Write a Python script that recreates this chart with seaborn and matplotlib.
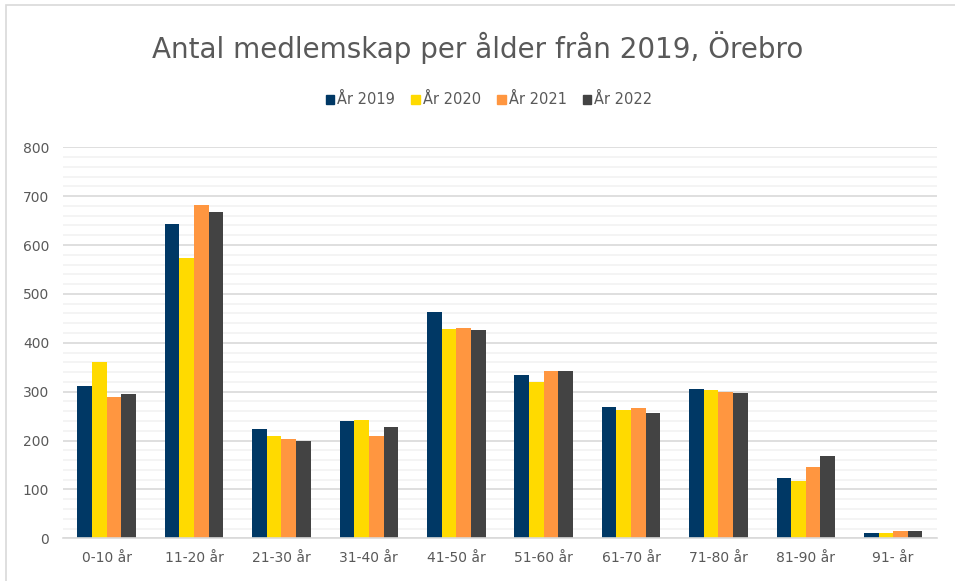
import matplotlib
matplotlib.use("Agg")
import matplotlib.pyplot as plt
import seaborn as sns
import pandas as pd
from matplotlib.patches import Rectangle

categories = ["0-10 år", "11-20 år", "21-30 år", "31-40 år", "41-50 år",
              "51-60 år", "61-70 år", "71-80 år", "81-90 år", "91- år"]
series = ["År 2019", "År 2020", "År 2021", "År 2022"]
v2019 = [312, 644, 224, 239, 462, 335, 268, 305, 123, 10]
v2020 = [361, 573, 210, 242, 428, 320, 263, 303, 117, 10]
v2021 = [290, 681, 203, 210, 430, 343, 266, 299, 146, 15]
v2022 = [295, 668, 199, 228, 426, 342, 256, 297, 168, 15]
colors = ["#003865", "#FFDA00", "#FF9640", "#434343"]

rows = []
for s, vals in zip(series, [v2019, v2020, v2021, v2022]):
    for c, v in zip(categories, vals):
        rows.append({"kategori": c, "serie": s, "värde": v})
df = pd.DataFrame(rows)

sns.set_theme(style="white")
plt.rcParams["font.family"] = ["DejaVu Sans"]

fig = plt.figure(figsize=(9.55, 5.81), dpi=100)
ax = fig.add_axes([0.066, 0.0735, 0.915, 0.673])

# gridlines
ax.set_yticks(range(0, 801, 100))
ax.set_yticks(range(0, 801, 20), minor=True)
ax.grid(True, which="major", axis="y", color="#D9D9D9", linewidth=1.2)
ax.grid(True, which="minor", axis="y", color="#F2F2F2", linewidth=1.2)
ax.set_axisbelow(True)

sns.barplot(data=df, x="kategori", y="värde", hue="serie", hue_order=series,
            palette=colors, order=categories, width=0.67, gap=0,
            saturation=1, ax=ax, legend=False, edgecolor="none")

ax.set_ylim(0, 800)
ax.set_xlim(-0.5, len(categories) - 0.5)
for sp in ["top", "right", "left"]:
    ax.spines[sp].set_visible(False)
ax.spines["bottom"].set_color("#D9D9D9")
ax.spines["bottom"].set_linewidth(1.2)
ax.set_xlabel("")
ax.set_ylabel("")
ax.tick_params(axis="both", which="both", length=0, labelsize=10,
               labelcolor="#595959", pad=9)
ax.tick_params(axis="y", pad=10)

fig.text(0.5, 0.918, "Antal medlemskap per ålder från 2019, Örebro",
         ha="center", va="center", fontsize=20, color="#595959")

handles = [Rectangle((0, 0), 1, 1, color=c) for c in colors]
fig.legend(handles, series, loc="center", bbox_to_anchor=(0.512, 0.828),
           ncol=4, frameon=False, fontsize=10.5, labelcolor="#595959",
           handlelength=0.6, handleheight=0.6, handletextpad=0.2,
           columnspacing=1.1)

fig.patches.append(Rectangle((6 / 955, -0.05), 1.0, 1 - 5 / 581 + 0.05,
                             transform=fig.transFigure, fill=False,
                             edgecolor="#D9D9D9", linewidth=1.2))

fig.savefig("out.png", dpi=100)
